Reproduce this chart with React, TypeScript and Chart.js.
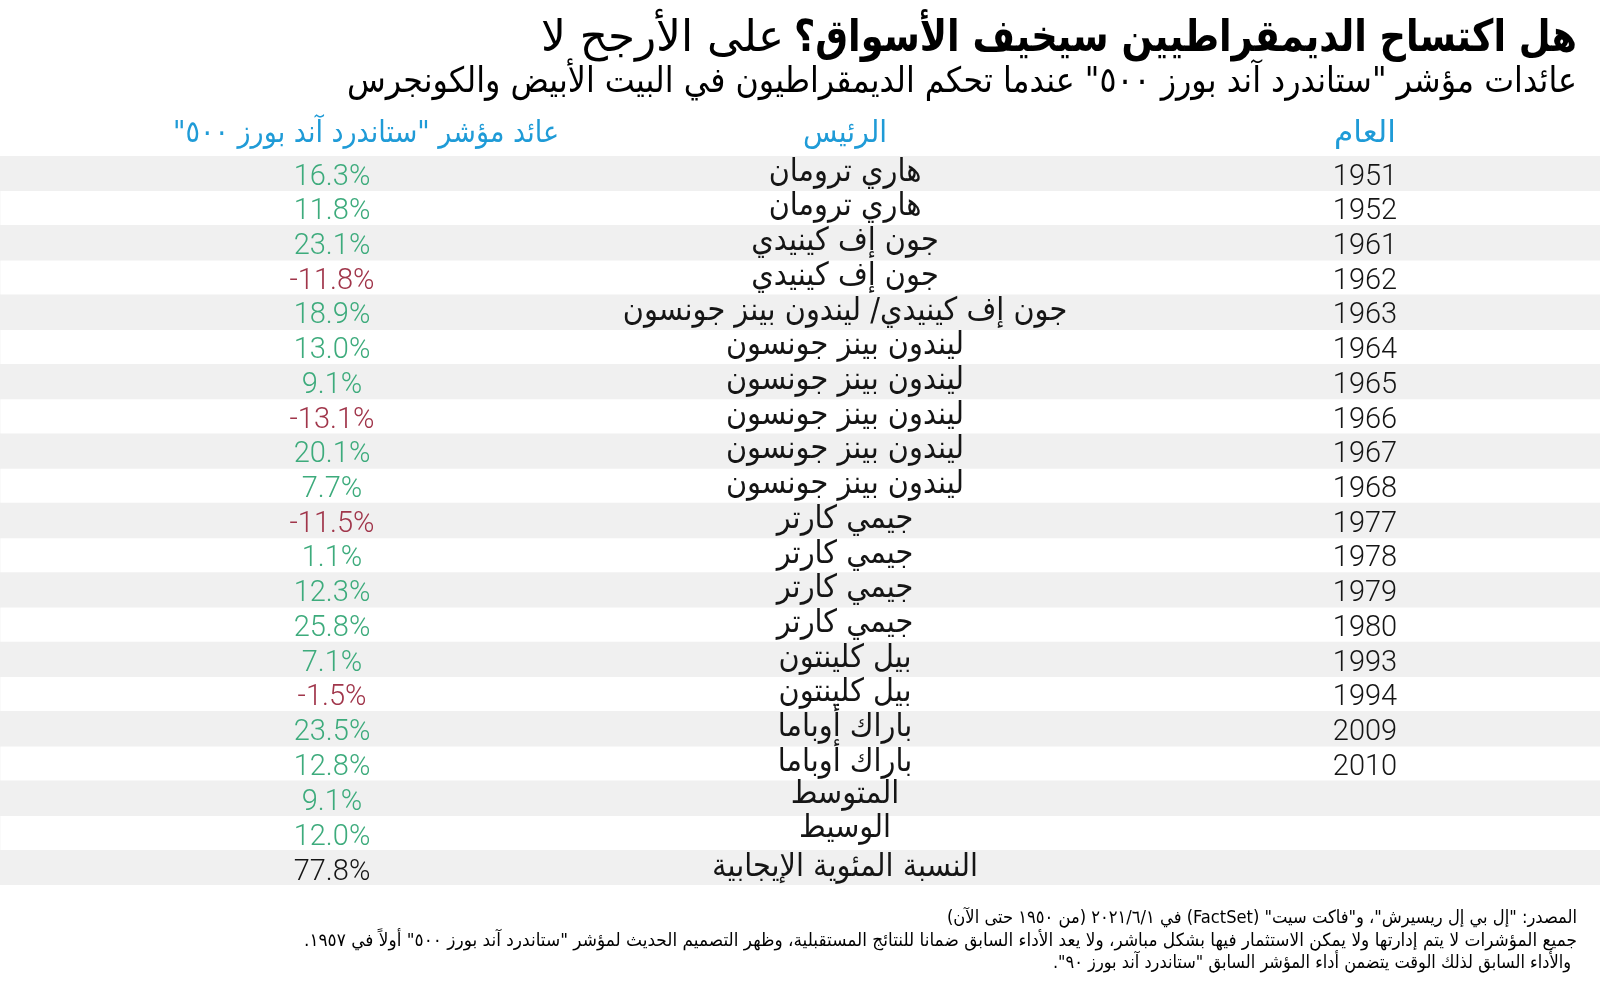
import React, { useEffect, useRef } from "react";
import { Chart, registerables } from "chart.js";

Chart.register(...registerables);

const years: number[] = [1951, 1952, 1961, 1962, 1963, 1964, 1965, 1966, 1967, 1968, 1977, 1978, 1979, 1980, 1993, 1994, 2009, 2010];
const presidents: string[] = [
  "هاري ترومان",
  "هاري ترومان",
  "جون إف كينيدي",
  "جون إف كينيدي",
  "جون إف كينيدي/ ليندون بينز جونسون",
  "ليندون بينز جونسون",
  "ليندون بينز جونسون",
  "ليندون بينز جونسون",
  "ليندون بينز جونسون",
  "ليندون بينز جونسون",
  "جيمي كارتر",
  "جيمي كارتر",
  "جيمي كارتر",
  "جيمي كارتر",
  "بيل كلينتون",
  "بيل كلينتون",
  "باراك أوباما",
  "باراك أوباما",
];
const returns: number[] = [16.3, 11.8, 23.1, -11.8, 18.9, 13.0, 9.1, -13.1, 20.1, 7.7, -11.5, 1.1, 12.3, 25.8, 7.1, -1.5, 23.5, 12.8];
const summaryLabels: string[] = ["المتوسط", "الوسيط", "النسبة المئوية الإيجابية"];
const summaryValues: number[] = [9.1, 12.0, 77.8];

const headerYear = "العام";
const headerPresident = "الرئيس";
const headerReturn = "عائد مؤشر \"ستاندرد آند بورز ٥٠٠\"";
const titleBold = "هل اكتساح الديمقراطيين سيخيف الأسواق؟";
const titleRegular = "على الأرجح لا";
const subtitle = "عائدات مؤشر \"ستاندرد آند بورز ٥٠٠\" عندما تحكم الديمقراطيون في البيت الأبيض والكونجرس";
const footnotes: string[] = [
  "المصدر: \"إل بي إل ريسيرش\"، و\"فاكت سيت\" (FactSet) في ٢٠٢١/٦/١ (من ١٩٥٠ حتى الآن)",
  "جميع المؤشرات لا يتم إدارتها ولا يمكن الاستثمار فيها بشكل مباشر، ولا يعد الأداء السابق ضمانا للنتائج المستقبلية، وظهر التصميم الحديث لمؤشر \"ستاندرد آند بورز ٥٠٠\" أولاً في ١٩٥٧.",
  "والأداء السابق لذلك الوقت يتضمن أداء المؤشر السابق \"ستاندرد آند بورز ٩٠\".",
];

const AR = "'DejaVu Sans Condensed', 'DejaVu Sans', sans-serif";
const NUM = "Roboto, 'Liberation Sans', sans-serif";
const GREEN = "#3dab7c";
const RED = "#a0354a";
const BLUE = "#1f9bd7";
const INK = "#151515";
const SHADE = "#f0f0f0";

function drawText(
  ctx: CanvasRenderingContext2D,
  text: string,
  x: number,
  y: number,
  font: string,
  color: string,
  align: CanvasTextAlign,
  rtl: boolean,
  targetWidth?: number
) {
  ctx.save();
  ctx.font = font;
  ctx.fillStyle = color;
  ctx.textBaseline = "middle";
  (ctx as any).direction = rtl ? "rtl" : "ltr";
  ctx.textAlign = align;
  ctx.translate(x, y);
  if (targetWidth) {
    const w = ctx.measureText(text).width;
    if (w > 0) ctx.scale(targetWidth / w, 1);
  }
  ctx.fillText(text, 0, 0);
  ctx.restore();
}

const tablePlugin = {
  id: "tableText",
  afterDatasetsDraw(chart: any) {
    const ctx: CanvasRenderingContext2D = chart.ctx;
    const yScale = chart.scales.y;
    // Title & subtitle
    drawText(ctx, titleBold, 1577, 40, `bold 44px ${AR}`, "#000", "right", true, 783);
    drawText(ctx, titleRegular, 784, 40, `normal 44px ${AR}`, "#000", "right", true, 243);
    drawText(ctx, subtitle, 1577, 83, `normal 35px ${AR}`, "#000", "right", true, 1230);
    // Headers
    drawText(ctx, headerYear, 1365, 134, `normal 30px ${AR}`, BLUE, "center", true, 62);
    drawText(ctx, headerPresident, 845, 134, `normal 30px ${AR}`, BLUE, "center", true, 84);
    drawText(ctx, headerReturn, 559, 134, `normal 30px ${AR}`, BLUE, "right", true, 386);
    // Rows
    years.forEach((yr, i) => {
      const py = yScale.getPixelForValue(i) + 4;
      drawText(ctx, String(yr), 1365, py, `300 29px ${NUM}`, INK, "center", false);
      drawText(ctx, presidents[i], 845, py - 5, `normal 32px ${AR}`, INK, "center", true);
      const v = returns[i];
      drawText(ctx, `${v.toFixed(1)}%`, 332, py, `300 29px ${NUM}`, v < 0 ? RED : GREEN, "center", false);
    });
    summaryLabels.forEach((lab, j) => {
      const i = years.length + j;
      const py = yScale.getPixelForValue(i);
      const labOffset = j === summaryLabels.length - 1 ? 0 : -4;
      drawText(ctx, lab, 845, py + labOffset, `normal 32px ${AR}`, INK, "center", true);
      const col = j === summaryLabels.length - 1 ? INK : GREEN;
      drawText(ctx, `${summaryValues[j].toFixed(1)}%`, 332, py + 5, `300 29px ${NUM}`, col, "center", false);
    });
    // Footnotes
    drawText(ctx, footnotes[0], 1577, 918, `normal 18px ${AR}`, "#000", "right", true, 630);
    drawText(ctx, footnotes[1], 1577, 941, `normal 18px ${AR}`, "#000", "right", true, 1273);
    drawText(ctx, footnotes[2], 1571, 963, `normal 18px ${AR}`, "#000", "right", true);
  },
};

export default function App() {
  const canvasRef = useRef<HTMLCanvasElement | null>(null);

  useEffect(() => {
    const canvas = canvasRef.current;
    if (!canvas) return;
    const rowLabels = [...years.map(String), ...summaryLabels];
    const shadeValues = rowLabels.map((_, i) => (i % 2 === 0 ? 1 : 0));
    const chart = new Chart(canvas, {
      type: "bar",
      data: {
        labels: rowLabels,
        datasets: [
          {
            data: shadeValues,
            backgroundColor: SHADE,
            borderWidth: 0,
            barPercentage: 1,
            categoryPercentage: 1,
          },
        ],
      },
      options: {
        indexAxis: "y",
        responsive: false,
        animation: false,
        devicePixelRatio: 1,
        layout: { padding: { top: 156, bottom: 120, left: 0, right: 0 } },
        plugins: { legend: { display: false }, tooltip: { enabled: false }, title: { display: false } },
        scales: {
          x: { display: false, min: 0, max: 1 },
          y: { display: false },
        },
      },
      plugins: [tablePlugin],
    });
    return () => chart.destroy();
  }, []);

  return (
    <div style={{ position: "absolute", left: 0, top: 0, width: 1600, height: 1005, background: "#fff" }}>
      <canvas ref={canvasRef} width={1600} height={1005} style={{ width: 1600, height: 1005 }} />
    </div>
  );
}
